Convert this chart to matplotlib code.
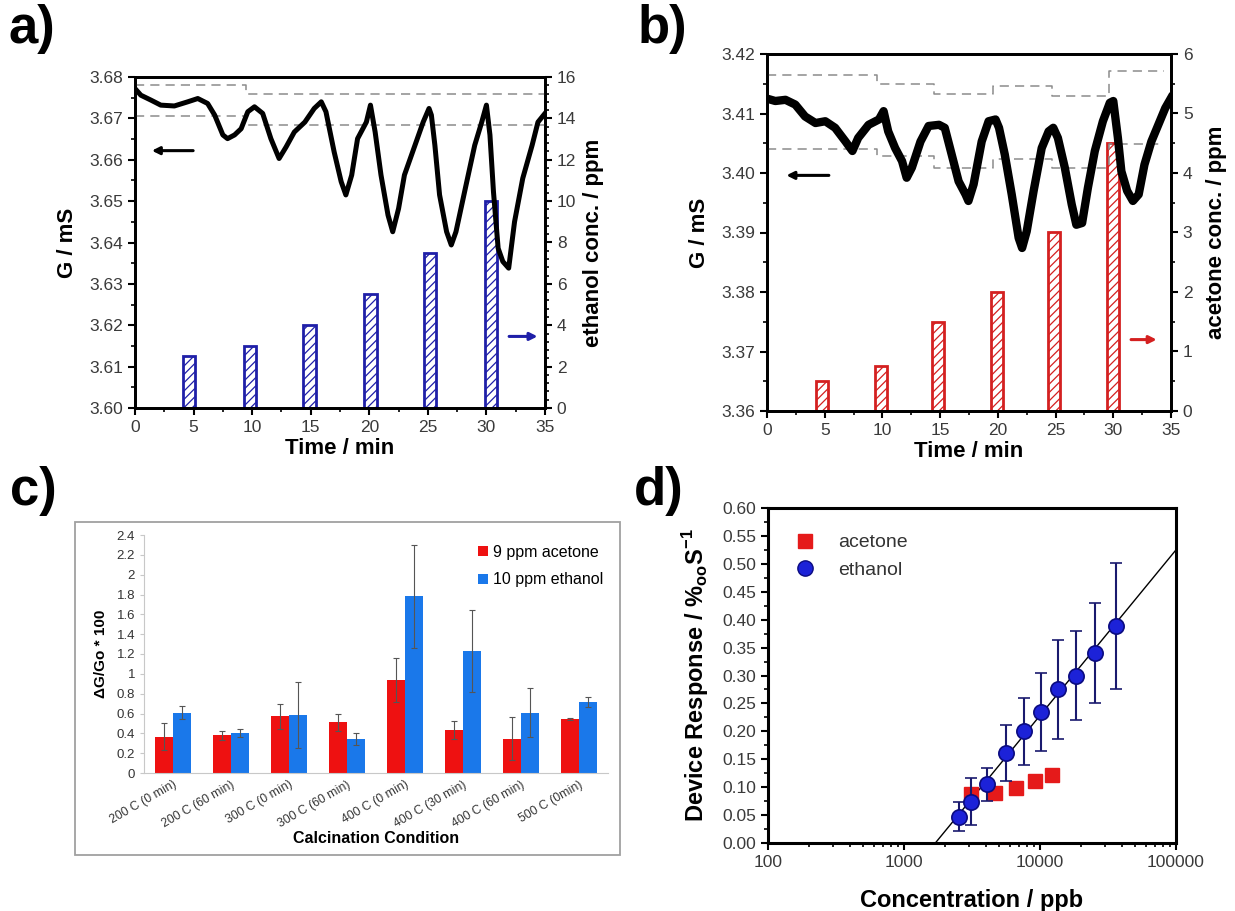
import numpy as np
import matplotlib
matplotlib.use('Agg')
import matplotlib.pyplot as plt
from matplotlib.ticker import MultipleLocator, FuncFormatter, LogLocator, NullFormatter
from matplotlib.lines import Line2D
from matplotlib.patches import Rectangle

# ---- panel a: conductance trace under ethanol pulses ----
a_time = [0, 0.5, 1.37, 2.2, 3.36, 4.5, 5.36, 6.2, 6.8, 7.5, 7.9, 8.5, 9.06, 9.63, 10.2,
          10.9, 11.6, 12.3, 12.9, 13.6, 14.5, 15.3, 15.9, 16.3, 17.0, 17.6, 18.0, 18.5,
          19.0, 19.75, 20.1, 20.5, 21.0, 21.6, 22.0, 22.5, 23.0, 23.9, 24.6, 25.1, 25.3,
          25.6, 26.0, 26.6, 27.0, 27.4, 28.2, 29.0, 29.6, 30.0, 30.3, 30.6, 31.0, 31.4,
          31.9, 32.4, 33.1, 33.9, 34.4, 35.0]
a_g = [3.6772, 3.6756, 3.6744, 3.6732, 3.6730, 3.6740, 3.6748, 3.6736, 3.6708, 3.6660,
       3.6651, 3.6660, 3.6675, 3.6716, 3.6728, 3.6712, 3.6651, 3.6603, 3.6631, 3.6667,
       3.6691, 3.6724, 3.6740, 3.6716, 3.6619, 3.6547, 3.6515, 3.6563, 3.6651, 3.6691,
       3.6732, 3.6667, 3.6563, 3.6466, 3.6426, 3.6482, 3.6563, 3.6635, 3.6691, 3.6724,
       3.6708, 3.6635, 3.6515, 3.6426, 3.6394, 3.6426, 3.6531, 3.6635, 3.6691, 3.6732,
       3.6660, 3.6523, 3.6386, 3.6354, 3.6338, 3.6450, 3.6555, 3.6635, 3.6691, 3.6712]
a_up_t = [0, 9.5, 35]
a_up_g = [3.6780, 3.6758, 3.6758]
a_lo_t = [0, 9.5, 35]
a_lo_g = [3.6705, 3.6683, 3.6683]
a_bar_t = [4.6, 9.8, 14.9, 20.1, 25.2, 30.4]
a_bar_ppm = [2.5, 3, 4, 5.5, 7.5, 10]

# ---- panel b: conductance trace under acetone pulses ----
b_time = [0, 0.72, 1.6, 2.45, 3.3, 4.2, 5.05, 5.9, 6.8, 7.4, 7.9, 8.8, 9.7, 10.1, 10.5,
          11.1, 11.7, 12.1, 12.55, 13.3, 14.0, 14.9, 15.4, 16.0, 16.6, 17.2, 17.45, 17.9,
          18.6, 19.2, 19.8, 20.1, 20.6, 21.2, 21.8, 22.1, 22.5, 23.1, 23.8, 24.4, 24.8,
          25.2, 25.8, 26.4, 26.8, 27.3, 27.8, 28.4, 29.1, 29.7, 30.0, 30.4, 30.7, 31.2,
          31.7, 32.2, 32.7, 33.3, 33.9, 34.5, 35.0]
b_g = [3.4125, 3.4121, 3.4123, 3.4115, 3.4095, 3.4084, 3.4087, 3.4076, 3.4053, 3.4037,
       3.4059, 3.4081, 3.4090, 3.4104, 3.4070, 3.4042, 3.4020, 3.3992, 3.4009, 3.4053,
       3.4079, 3.4081, 3.4076, 3.4031, 3.3986, 3.3964, 3.3953, 3.3981, 3.4053, 3.4087,
       3.4090, 3.4076, 3.4031, 3.3964, 3.3891, 3.3874, 3.3902, 3.3970, 3.4042, 3.4070,
       3.4076, 3.4059, 3.4009, 3.3947, 3.3913, 3.3916, 3.3975, 3.4037, 3.4087, 3.4118,
       3.4121, 3.4059, 3.4003, 3.3970, 3.3953, 3.3964, 3.4014, 3.4053, 3.4081, 3.4109,
       3.4126]
b_up_t = [0, 9.5, 14.5, 19.6, 24.7, 29.6, 34.4]
b_up_g = [3.4164, 3.4149, 3.4132, 3.4146, 3.4129, 3.4172, 3.4172]
b_lo_t = [0, 9.5, 14.5, 19.6, 24.7, 29.6, 34.4]
b_lo_g = [3.4041, 3.4029, 3.4009, 3.4024, 3.4009, 3.4049, 3.4049]
b_bar_t = [4.75, 9.85, 14.85, 19.9, 24.9, 30.0]
b_bar_ppm = [0.5, 0.75, 1.5, 2, 3, 4.5]

# ---- panel c: calcination conditions ----
c_conditions = ['200 C (0 min)', '200 C (60 min)', '300 C (0 min)', '300 C (60 min)',
                '400 C (0 min)', '400 C (30 min)', '400 C (60 min)', '500 C (0min)']
c_acetone = [0.365, 0.38, 0.57, 0.51, 0.94, 0.43, 0.345, 0.54]
c_acetone_err = [0.135, 0.045, 0.13, 0.09, 0.22, 0.09, 0.215, 0.01]
c_ethanol = [0.61, 0.40, 0.585, 0.345, 1.78, 1.23, 0.61, 0.715]
c_ethanol_err = [0.07, 0.04, 0.335, 0.06, 0.52, 0.41, 0.25, 0.05]
c_yticks = [0, 0.2, 0.4, 0.6, 0.8, 1, 1.2, 1.4, 1.6, 1.8, 2, 2.2, 2.4]

# ---- panel d: device response vs concentration ----
eth_x = [2535, 3083, 4074, 5623, 7620, 10190, 13450, 18490, 25350, 35950]
eth_y = [0.047, 0.074, 0.105, 0.161, 0.200, 0.234, 0.275, 0.300, 0.340, 0.389]
eth_err = [0.026, 0.042, 0.029, 0.050, 0.060, 0.070, 0.088, 0.080, 0.090, 0.113]
ace_x = [3083, 4634, 6610, 9120, 12300]
ace_y = [0.087, 0.090, 0.098, 0.111, 0.122]
fit_x = [1700, 100000]
fit_y = [0.0, 0.525]

TICKFONT = ['Liberation Sans Narrow', 'Liberation Sans', 'DejaVu Sans']
LABELFONT = ['Liberation Sans', 'DejaVu Sans']
plt.rcParams['font.family'] = TICKFONT
plt.rcParams['hatch.linewidth'] = 0.9

W, H = 1235, 911
fig = plt.figure(figsize=(W / 100, H / 100), dpi=100)


def box(l, t, r, b):
    return [l / W, 1 - b / H, (r - l) / W, (b - t) / H]


def style_origin(ax, lw=2.0):
    for s in ax.spines.values():
        s.set_linewidth(lw)
    ax.tick_params(which='major', direction='out', length=5, width=1.5,
                   labelsize=12.5, labelcolor='#3a3a3a')
    ax.tick_params(which='minor', direction='out', length=3, width=1.2)


def trace_panel(rect, t, g, up_t, up_g, lo_t, lo_g, bar_t, bar_ppm, ylim, ylim2,
                g_major, r_major, r_minor, barcol, lw, rlabel, rpad, larrow, rarrow):
    ax = fig.add_axes(rect)
    ax2 = ax.twinx()
    ax2.bar(bar_t, bar_ppm, width=1.05, facecolor='none', edgecolor=barcol,
            hatch='////', linewidth=2)
    ax.plot(up_t, up_g, ls=(0, (6, 4)), color='#8c8c8c', lw=1.1, drawstyle='steps-post')
    ax.plot(lo_t, lo_g, ls=(0, (6, 4)), color='#8c8c8c', lw=1.1, drawstyle='steps-post')
    ax.plot(t, g, color='black', lw=lw, solid_joinstyle='round')
    ax.set_zorder(ax2.get_zorder() + 1)
    ax.patch.set_visible(False)
    ax.set_xlim(0, 35)
    ax.set_ylim(*ylim)
    ax2.set_ylim(*ylim2)
    ax.xaxis.set_major_locator(MultipleLocator(5))
    ax.xaxis.set_minor_locator(MultipleLocator(2.5))
    ax.yaxis.set_major_locator(MultipleLocator(g_major))
    ax.yaxis.set_minor_locator(MultipleLocator(g_major / 2))
    ax.yaxis.set_major_formatter(FuncFormatter(lambda v, p: f'{v:.2f}'))
    ax2.yaxis.set_major_locator(MultipleLocator(r_major))
    ax2.yaxis.set_minor_locator(MultipleLocator(r_minor))
    style_origin(ax)
    style_origin(ax2)
    ax.set_xlabel('Time / min', fontsize=16, fontweight='bold', family=LABELFONT, labelpad=2)
    ax.set_ylabel('G / mS', fontsize=16, fontweight='bold', family=LABELFONT, labelpad=8)
    ax2.set_ylabel(rlabel, fontsize=16, fontweight='bold', family=LABELFONT, labelpad=rpad)
    ax.annotate('', xy=(larrow[0], larrow[2]), xytext=(larrow[1], larrow[2]),
                arrowprops=dict(arrowstyle='-|>', color='black', lw=2.2, mutation_scale=11))
    ax2.annotate('', xy=(rarrow[1], rarrow[2]), xytext=(rarrow[0], rarrow[2]),
                 arrowprops=dict(arrowstyle='-|>', color=barcol, lw=2.2, mutation_scale=11))
    return ax, ax2


trace_panel(box(135, 77, 545, 408), a_time, a_g, a_up_t, a_up_g, a_lo_t, a_lo_g,
            a_bar_t, a_bar_ppm, (3.60, 3.68), (0, 16), 0.01, 2, 0.4, '#1f1fa8', 3.6,
            'ethanol conc. / ppm', 5, (1.2, 5.2, 3.6622), (31.7, 34.6, 3.46))
trace_panel(box(767, 54, 1171, 411), b_time, b_g, b_up_t, b_up_g, b_lo_t, b_lo_g,
            b_bar_t, b_bar_ppm, (3.36, 3.42), (0, 6), 0.01, 1, 0.5, '#d42020', 6.0,
            'acetone conc. / ppm', 10, (1.44, 5.6, 3.3996), (31.3, 34.0, 1.2))

# ---- panel c ----
fig.add_artist(Rectangle((75 / W, 1 - 855 / H), 545 / W, 333 / H, transform=fig.transFigure,
                         fill=False, edgecolor='#a0a0a0', lw=1.3))
axc = fig.add_axes(box(144, 535, 608, 773))
xc = np.arange(len(c_conditions))
bw = 0.31
err_kw = dict(ecolor='#555555', elinewidth=0.8, capsize=2.5, capthick=0.8)
axc.bar(xc - bw / 2, c_acetone, bw, yerr=c_acetone_err, color='#ee1111',
        label='9 ppm acetone', error_kw=err_kw)
axc.bar(xc + bw / 2, c_ethanol, bw, yerr=c_ethanol_err, color='#1a78ea',
        label='10 ppm ethanol', error_kw=err_kw)
axc.set_xlim(-0.5, len(c_conditions) - 0.5)
axc.set_ylim(0, 2.4)
axc.set_yticks(c_yticks)
axc.yaxis.set_major_formatter(FuncFormatter(lambda v, p: f'{v:g}'))
axc.set_xticks(xc)
axc.set_xticklabels(c_conditions, rotation=30, ha='right', rotation_mode='anchor',
                    family=LABELFONT)
for s in ['top', 'right']:
    axc.spines[s].set_visible(False)
axc.spines['left'].set_color('#c8c8c8')
axc.spines['bottom'].set_color('#c8c8c8')
axc.tick_params(axis='y', direction='out', length=3, color='#c8c8c8', labelsize=9.5,
                labelcolor='#333333')
axc.tick_params(axis='x', length=0, labelsize=8.8, labelcolor='#333333', pad=4)
for lab in axc.get_yticklabels():
    lab.set_family(LABELFONT)
axc.set_ylabel('ΔG/Go * 100', fontsize=11, fontweight='bold', family=LABELFONT, labelpad=6)
axc.set_xlabel('Calcination Condition', fontsize=11.5, fontweight='bold', family=LABELFONT,
               labelpad=1)
axc.legend(loc='upper right', bbox_to_anchor=(1.02, 1.02), frameon=False,
           prop={'family': LABELFONT, 'size': 11.5}, handlelength=0.6, handleheight=0.6,
           handletextpad=0.3, labelspacing=0.8)

# ---- panel d ----
axd = fig.add_axes(box(768, 508, 1176, 843))
axd.plot(fit_x, fit_y, color='black', lw=1.0)
axd.errorbar(eth_x, eth_y, yerr=eth_err, fmt='o', color='#1c22d8', mec='#0b0b80', mew=1.2,
             ms=11, ecolor='#1a1a6e', elinewidth=1.5, capsize=4, capthick=1.5, zorder=3)
axd.plot(ace_x, ace_y, 's', color='#e51a1a', ms=10, zorder=2)
axd.set_xscale('log')
axd.set_xlim(100, 100000)
axd.set_ylim(0, 0.6)
axd.yaxis.set_major_locator(MultipleLocator(0.05))
axd.yaxis.set_minor_locator(MultipleLocator(0.025))
axd.yaxis.set_major_formatter(FuncFormatter(lambda v, p: f'{v:.2f}'))
axd.xaxis.set_major_locator(LogLocator(base=10))
axd.xaxis.set_minor_locator(LogLocator(base=10, subs=np.arange(2, 10)))
axd.xaxis.set_major_formatter(FuncFormatter(lambda v, p: f'{int(round(v))}'))
axd.xaxis.set_minor_formatter(NullFormatter())
style_origin(axd, lw=2.2)
axd.set_xlabel('Concentration / ppb', fontsize=17, fontweight='bold', family=LABELFONT,
               labelpad=14)
axd.set_ylabel(r'Device Response / %$_{\mathregular{oo}}$S$^{\mathregular{-1}}$', fontsize=17,
               fontweight='bold', family=LABELFONT, labelpad=8)
handles = [Line2D([], [], ls='none', marker='s', color='#e51a1a', ms=10),
           Line2D([], [], ls='none', marker='o', color='#1c22d8', mec='#0b0b80', ms=11)]
axd.legend(handles, ['acetone', 'ethanol'], loc='upper left', frameon=False,
           prop={'size': 14}, handletextpad=0.7, labelspacing=0.5,
           bbox_to_anchor=(0.0, 0.975), labelcolor='#333333')

# panel letters
for txt, x, y in [('a)', 8, 4), ('b)', 638, 4), ('c)', 10, 466), ('d)', 634, 466)]:
    fig.text(x / W, 1 - y / H, txt, fontsize=38, fontweight='bold', family=LABELFONT,
             va='top', ha='left')

fig.savefig('out.png', dpi=100)
